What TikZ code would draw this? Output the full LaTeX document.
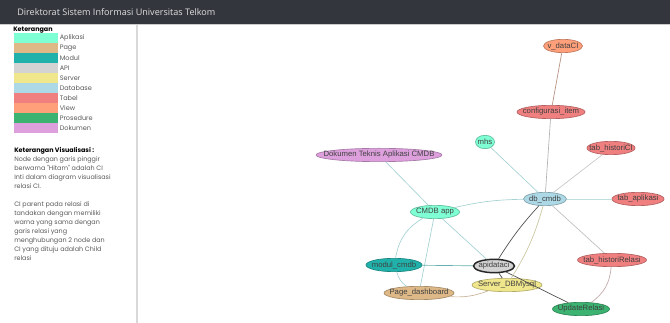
\documentclass[tikz,border=0pt]{standalone}
\usepackage{fontspec}
\setmainfont{Liberation Sans}
\newfontfamily\titlefont{Open Sans}
\newfontfamily\sidefont{Poppins}
\usetikzlibrary{shapes.geometric, positioning, calc}

\definecolor{titlebar}{HTML}{33363D}
\definecolor{aplikasic}{HTML}{7FFFD4}
\definecolor{pagec}{HTML}{DEB887}
\definecolor{modulc}{HTML}{20B2AA}
\definecolor{apic}{HTML}{D3D3D3}
\definecolor{serverc}{HTML}{F0E68C}
\definecolor{databasec}{HTML}{ADD8E6}
\definecolor{tabelc}{HTML}{F08080}
\definecolor{viewc}{HTML}{FFA07A}
\definecolor{prosedurec}{HTML}{3CB371}
\definecolor{dokumenc}{HTML}{DDA0DD}

\newcommand{\cilbl}[1]{\makebox[0pt]{#1}}

\tikzset{
  ci/.style={ellipse, inner sep=0pt, minimum height=10pt, line width=0.5pt,
    font=\fontsize{5.8}{6}\selectfont, text=black!75},
  wd/.style={minimum width=#1*0.75pt},
  cifill/.style={fill=#1, draw=#1!75!black},
  rel/.style={line width=0.5pt, color=#1},
}

\begin{document}
\begin{tikzpicture}[x=0.75pt, y=-0.75pt]
        \useasboundingbox (0,0) rectangle (670,323);
        \fill[white] (0,0) rectangle (670,323);

        % header bar
        \fill[titlebar] (0,0) rectangle (670,24);
        \draw[black!20, line width=0.6pt] (0,24.5) -- (670,24.5);
        \node[anchor=west, text=white!88!black, inner sep=0pt, font=\titlefont\fontsize{6.8}{8}\selectfont] (title) at (17,12.5) {Direktorat Sistem Informasi Universitas Telkom};

        % sidebar
        \draw[black!15, line width=0.8pt] (137,25) -- (137,323);
        \node[anchor=west, inner sep=0pt, font=\sidefont\bfseries\fontsize{4.8}{5}\selectfont] (legtitle) at (13,30) {Keterangan};
        \foreach \name/\col [count=\i] in {Aplikasi/aplikasic, Page/pagec, Modul/modulc, API/apic, Server/serverc, Database/databasec, Tabel/tabelc, View/viewc, Prosedure/prosedurec, Dokumen/dokumenc} {
          \fill[\col] (14,{33+10*(\i-1)}) rectangle (58,{33+10*\i});
          \node[anchor=west, inner sep=0pt, text=black!65, font=\sidefont\fontsize{4.9}{5}\selectfont] (leg\i) at (59.5,{38+10*(\i-1)}) {\name};
        }
        \node[anchor=north west, inner sep=0pt, align=left, font=\sidefont\fontsize{4.8}{6.75}\selectfont, text=black!65] (visnote) at (14,147.5) {%
          {\bfseries\color{black}Keterangan Visualisasi :}\\
          Node dengan garis pinggir\\
          berwarna "Hitam" adalah CI\\
          Inti dalam diagram visualisasi\\
          relasi CI.\\[6.75pt]
          CI parent pada relasi di\\
          tandakan dengan memiliki\\
          warna yang sama dengan\\
          garis relasi yang\\
          menghubungan 2 node dan\\
          CI yang dituju adalah Child\\
          relasi};

        % CI nodes
        \node[ci, cifill=viewc, wd=39] (vdata) at (563,46) {\cilbl{v\_dataCI}};
        \node[ci, cifill=tabelc, wd=68] (cfgitem) at (551,112) {\cilbl{configurasi\_item}};
        \node[ci, cifill=aplikasic, wd=19] (mhs) at (485,142) {\cilbl{mhs}};
        \node[ci, cifill=tabelc, wd=48] (histci) at (611,148) {\cilbl{tab\_historiCI}};
        \node[ci, cifill=dokumenc, wd=126] (doktek) at (379,155) {\cilbl{Dokumen Teknis Aplikasi CMDB}};
        \node[ci, cifill=databasec, wd=43] (dbcmdb) at (545,199) {\cilbl{db\_cmdb}};
        \node[ci, cifill=tabelc, wd=52] (tabapl) at (638,199) {\cilbl{tab\_aplikasi}};
        \node[ci, cifill=aplikasic, wd=49] (cmdbapp) at (435,212) {\cilbl{CMDB app}};
        \node[ci, cifill=tabelc, wd=69] (histrel) at (612,260) {\cilbl{tab\_historiRelasi}};
        \node[ci, cifill=modulc, wd=56] (modul) at (394,265) {\cilbl{modul\_cmdb}};
        \node[ci, fill=apic, draw=black!85, line width=1.1pt, wd=41] (apidata) at (494,266) {\cilbl{apidataci}};
        \node[ci, cifill=serverc, wd=70] (server) at (507,285) {\cilbl{Server\_DBMysql}};
        \node[ci, cifill=pagec, wd=70] (pagedash) at (419,293) {\cilbl{Page\_dashboard}};
        \node[ci, cifill=prosedurec, wd=57] (updrel) at (581,309) {\cilbl{UpdateRelasi}};

        % relations
        \draw[rel=viewc!60!black!70] (vdata) -- (cfgitem);
        \draw[rel=black!30] (cfgitem) -- (dbcmdb);
        \draw[rel=teal!35] (mhs) -- (dbcmdb);
        \draw[rel=black!22] (histci) -- (dbcmdb);
        \draw[rel=teal!25] (tabapl) -- (dbcmdb);
        \draw[rel=black!25] (histrel) -- (dbcmdb);
        \draw[rel=teal!35] (doktek) -- (cmdbapp);
        \draw[rel=teal!35] (cmdbapp) to[bend left=6] (dbcmdb);
        \draw[rel=teal!35] (cmdbapp) -- (apidata);
        \draw[rel=teal!35] (cmdbapp) -- (pagedash);
        \draw[rel=teal!35] (cmdbapp) to[bend right=25] (modul);
        \draw[rel=teal!35] (modul) to[bend right=20] (pagedash);
        \draw[rel=teal!60] (modul) -- (apidata);
        \draw[rel=black!70] (apidata) to[bend left=5] (dbcmdb);
        \draw[rel=black!75] (apidata) -- (server);
        \draw[rel=black!70] (apidata) -- (updrel);
        \draw[rel=serverc!70!black!60] (server) to[bend right=8] (dbcmdb);
        \draw[rel=pagec!80!black!70] (server) to[bend left=12] (pagedash);
        \draw[rel=tabelc!50!black!45] (histrel) to[bend left=25] (updrel);

      \end{tikzpicture}
\end{document}
